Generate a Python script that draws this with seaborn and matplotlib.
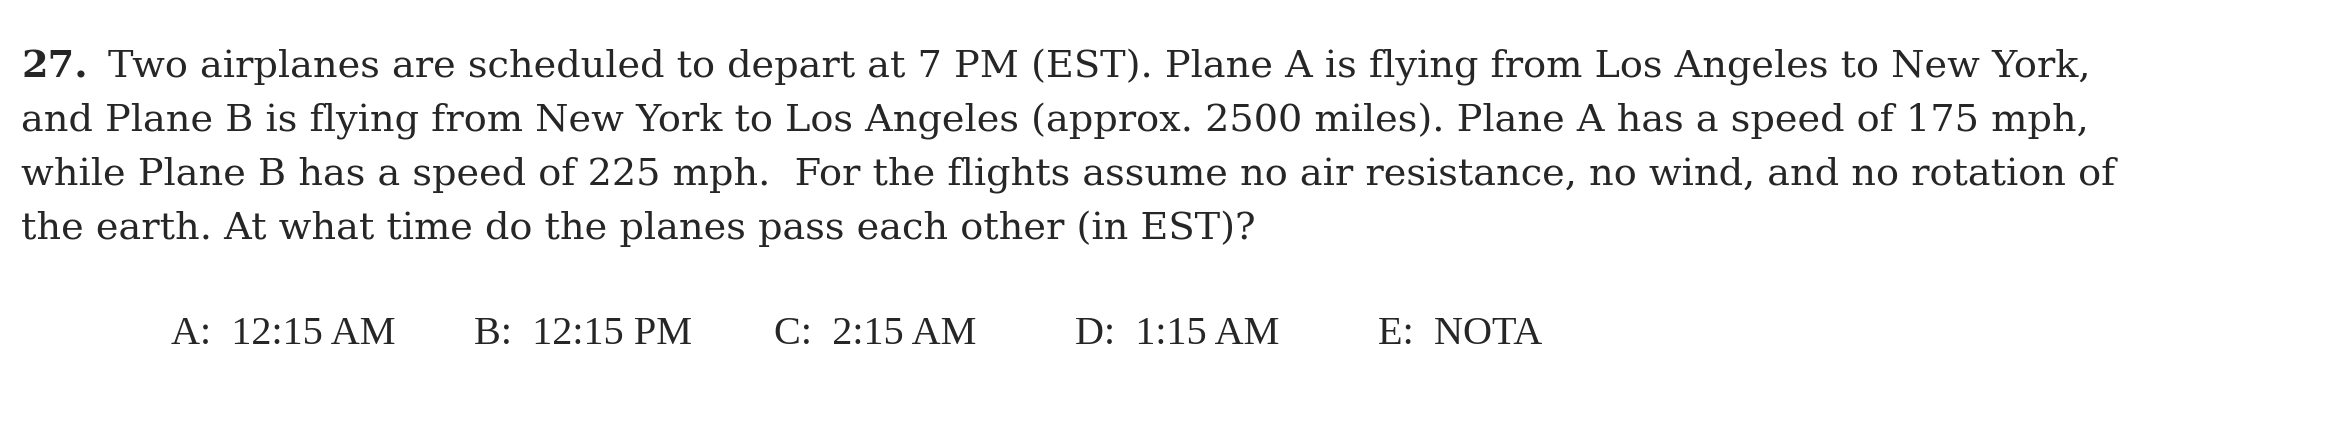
import matplotlib
matplotlib.use("Agg")
import matplotlib.pyplot as plt
import seaborn as sns

sns.set_theme(style="white")
plt.rcParams['font.family'] = ['DejaVu Serif', 'Liberation Serif']

question_number = "27."
question_lines = [
    "Two airplanes are scheduled to depart at 7 PM (EST). Plane A is flying from Los Angeles to New York,",
    "and Plane B is flying from New York to Los Angeles (approx. 2500 miles). Plane A has a speed of 175 mph,",
    "while Plane B has a speed of 225 mph.  For the flights assume no air resistance, no wind, and no rotation of",
    "the earth. At what time do the planes pass each other (in EST)?",
]
choice_labels = ["A:", "B:", "C:", "D:", "E:"]
choice_texts = ["12:15 AM", "12:15 PM", "2:15 AM", "1:15 AM", "NOTA"]

fig = plt.figure(figsize=(23.45, 4.26), dpi=100)
ax = fig.add_axes([0, 0, 1, 1])
ax.set_xlim(0, 1560)
ax.set_ylim(285, 0)
ax.axis("off")

fs = 27.5
ys = [45, 81, 117, 153]
ax.text(14, ys[0], question_number, fontsize=fs, fontweight="bold", va="center", ha="left")
for i, (line, y) in enumerate(zip(question_lines, ys)):
    x = 72 if i == 0 else 14
    ax.text(x, y, line, fontsize=fs, va="center", ha="left")

xs = [114, 315, 515, 715, 917]
for x, lab, txt in zip(xs, choice_labels, choice_texts):
    ax.text(x, 224, f"{lab}  {txt}", fontsize=29, va="center", ha="left",
            family=['Liberation Serif'])

fig.savefig("out.png", dpi=100)
